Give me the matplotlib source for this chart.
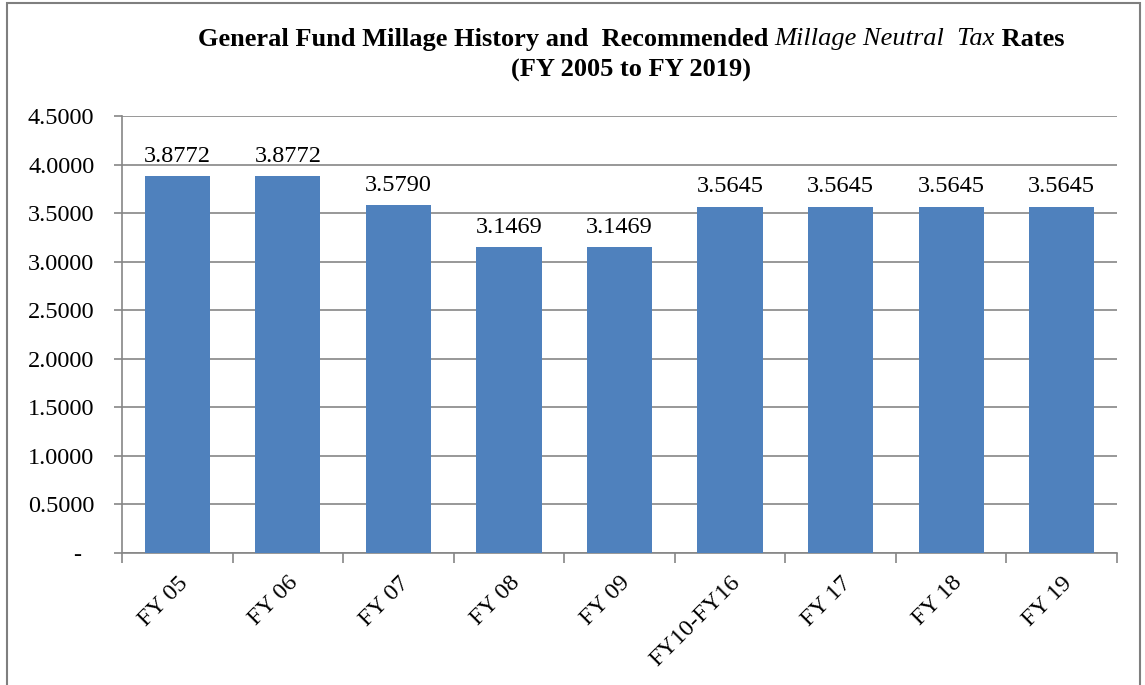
import matplotlib
matplotlib.use("Agg")
import matplotlib.pyplot as plt
from matplotlib.patches import Rectangle
import numpy as np

categories = ["FY 05", "FY 06", "FY 07", "FY 08", "FY 09", "FY10-FY16", "FY 17", "FY 18", "FY 19"]
values = [3.8772, 3.8772, 3.5790, 3.1469, 3.1469, 3.5645, 3.5645, 3.5645, 3.5645]
yticks = [0, 0.5, 1.0, 1.5, 2.0, 2.5, 3.0, 3.5, 4.0, 4.5]
ytick_labels = ["-  ", "0.5000", "1.0000", "1.5000", "2.0000", "2.5000", "3.0000", "3.5000", "4.0000", "4.5000"]

plt.rcParams['font.family'] = ['Liberation Serif', 'DejaVu Serif']

fig = plt.figure(figsize=(11.45, 6.85), dpi=100)
ax = fig.add_axes([0.1066, 0.1927, 0.8689, 0.638])

gray = "#868686"
fs = 17.5
x = np.arange(len(categories))
bars = ax.bar(x, values, width=0.59, color="#4F81BD", zorder=3)
ax.set_xlim(-0.5, len(categories) - 0.5)
ax.set_ylim(0, 4.5)
ax.set_yticks(yticks)
ax.set_yticklabels(ytick_labels, fontsize=fs)
ax.yaxis.grid(True, color=gray, linewidth=1.2, zorder=0)
ax.set_xticks(np.arange(len(categories) + 1) - 0.5)
ax.set_xticklabels([])
ax.set_xticks(x, minor=True)
ax.set_xticklabels(categories, minor=True, rotation=45, ha="right", rotation_mode="anchor", fontsize=fs)
ax.tick_params(axis="x", which="major", length=7, color=gray, width=1.2, direction="out")
ax.tick_params(axis="x", which="minor", length=0, pad=14)
ax.tick_params(axis="y", length=6, color=gray, width=1.2, pad=14)
for s in ["top", "right"]:
    ax.spines[s].set_visible(False)
for s in ["left", "bottom"]:
    ax.spines[s].set_color(gray)
    ax.spines[s].set_linewidth(1.2)

for xi, v in zip(x, values):
    ax.annotate(f"{v:.4f}", (xi, v), xytext=(0, 7), textcoords="offset points",
                ha="center", va="bottom", fontsize=fs)

# Title with mixed italic
tfs = 19
pieces = [("General Fund Millage History and  Recommended ", "normal", "bold"),
          ("Millage Neutral  Tax", "italic", "normal"),
          (" Rates", "normal", "bold")]
fig.canvas.draw()
renderer = fig.canvas.get_renderer()
texts = []
widths = []
for s, st, wt in pieces:
    t = fig.text(0, 0.943, s, fontsize=tfs, fontstyle=st, fontweight=wt, va="center", ha="left")
    bb = t.get_window_extent(renderer=renderer)
    texts.append(t)
    widths.append(bb.width)
total = sum(widths)
cx = 631
start = cx - total / 2
for t, w in zip(texts, widths):
    t.set_x(start / fig.bbox.width)
    start += w
fig.text(cx / fig.bbox.width, 0.897, "(FY 2005 to FY 2019)", fontsize=tfs, fontweight="bold",
         ha="center", va="center")

# outer border
fig.add_artist(Rectangle((7 / 1145, -0.01), (1140 - 7) / 1145, 1 - 3 / 685 + 0.01,
                         transform=fig.transFigure, fill=False, edgecolor="#7f7f7f", linewidth=1.5))

fig.savefig("out.png", dpi=100)
